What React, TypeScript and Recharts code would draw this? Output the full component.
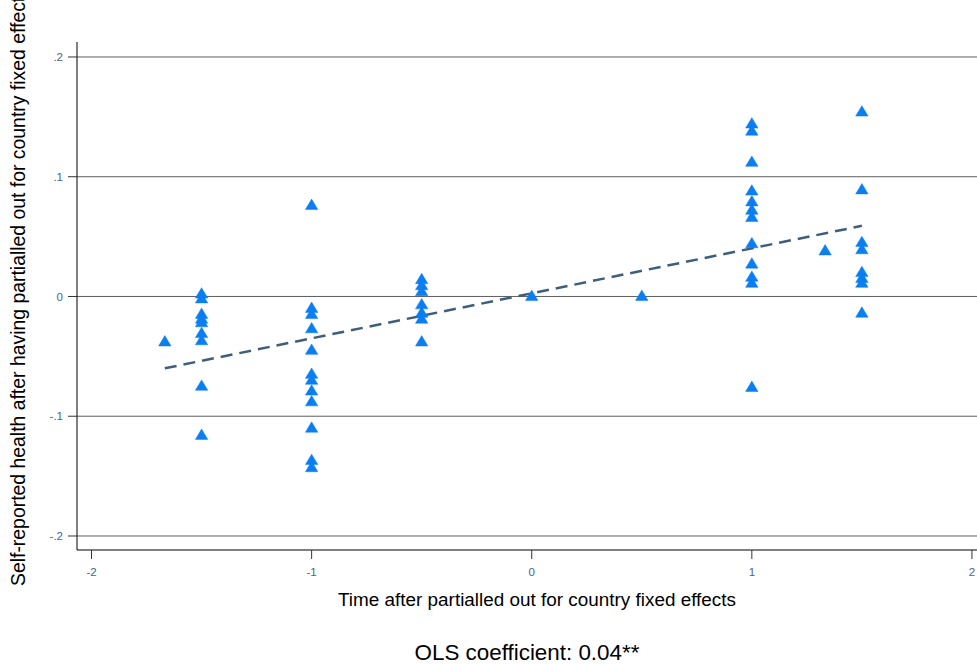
import React from "react";
import {
  ScatterChart,
  Scatter,
  XAxis,
  YAxis,
  ReferenceLine,
} from "recharts";

// ---- data ----
const xTicks = [-2, -1, 0, 1, 2];
const xTickLabels = ["-2", "-1", "0", "1", "2"];
const yTicks = [-0.2, -0.1, 0, 0.1, 0.2];
const yTickLabels = ["-.2", "-.1", "0", ".1", ".2"];

const clusterTimes = [-1.667, -1.5, -1, -0.5, 0, 0.5, 1, 1.333, 1.5];
const healthAtMinus1667 = [-0.037];
const healthAtMinus15 = [0.003, -0.001, -0.014, -0.018, -0.021, -0.03, -0.036, -0.074, -0.115];
const healthAtMinus1 = [0.077, -0.009, -0.014, -0.026, -0.044, -0.064, -0.069, -0.078, -0.087, -0.109, -0.136, -0.142];
const healthAtMinus05 = [0.015, 0.01, 0.005, -0.006, -0.013, -0.018, -0.037];
const healthAt0 = [0.001];
const healthAt05 = [0.001];
const healthAt1 = [0.145, 0.139, 0.113, 0.089, 0.08, 0.073, 0.067, 0.045, 0.028, 0.017, 0.012, -0.075];
const healthAt1333 = [0.039];
const healthAt15 = [0.155, 0.09, 0.046, 0.04, 0.021, 0.016, 0.012, -0.013];

const fitX = [-1.667, 1.5];
const fitY = [-0.06, 0.059];

const xTitle = "Time after partialled out for country fixed effects";
const yTitle = "Self-reported health after having partialled out for country fixed effects";
const note = "OLS coefficient: 0.04**";

const healthByCluster = [
  healthAtMinus1667,
  healthAtMinus15,
  healthAtMinus1,
  healthAtMinus05,
  healthAt0,
  healthAt05,
  healthAt1,
  healthAt1333,
  healthAt15,
];

const points = clusterTimes.flatMap((t, i) =>
  healthByCluster[i].map((h) => ({ time: t, health: h }))
);

// ---- styles ----
const FONT = "'Liberation Sans', Arial, Helvetica, sans-serif";
const TICK_COLOR = "#47658a";
const MARKER = "#0b7ef0";
const FIT_COLOR = "#3d5f7c";
const GRID = "#5f5f5f";

const Triangle = (props: any) => {
  const { cx, cy } = props;
  if (cx == null || cy == null) return null;
  const w = 6.2;
  const h = 5.2;
  return (
    <polygon
      points={`${cx},${cy - h} ${cx + w},${cy + h} ${cx - w},${cy + h}`}
      fill={MARKER}
      stroke={MARKER}
      strokeWidth={0.5}
      strokeLinejoin="round"
    />
  );
};

const XTitle = () => (
  <g>
    <text
      x={537}
      y={605.5}
      textAnchor="middle"
      fontFamily={FONT}
      fontSize={18.9}
      fill="#000"
    >
      {xTitle}
    </text>
    <text
      x={527}
      y={660}
      textAnchor="middle"
      fontFamily={FONT}
      fontSize={22.4}
      fill="#000"
    >
      {note}
    </text>
  </g>
);

const YTitle = () => (
  <text
    x={0}
    y={0}
    transform="translate(24.5,586) rotate(-90)"
    textAnchor="start"
    fontFamily={FONT}
    fontSize={19.4}
    fill="#000"
  >
    {yTitle}
  </text>
);

export default function App() {
  return (
    <div
      style={{
        position: "absolute",
        left: 0,
        top: 0,
        width: 977,
        height: 664,
        overflow: "hidden",
      }}
    >
      <ScatterChart
        width={977}
        height={664}
        margin={{ top: 42, right: 0, bottom: 84, left: 0 }}
        style={{ fontFamily: FONT }}
      >
        <XAxis
          type="number"
          dataKey="time"
          domain={[-2.066, 2.023]}
          ticks={xTicks}
          interval={0}
          allowDataOverflow
          height={30}
          tickSize={9}
          tickMargin={9}
          tickFormatter={(v: number) => xTickLabels[xTicks.indexOf(v)] ?? String(v)}
          tick={{ fill: TICK_COLOR, fontSize: 11.5, fontFamily: FONT }}
          tickLine={{ stroke: "#333" }}
          axisLine={{ stroke: "#000" }}
          label={<XTitle />}
        />
        <YAxis
          type="number"
          dataKey="health"
          domain={[-0.2117, 0.2125]}
          ticks={yTicks}
          interval={0}
          allowDataOverflow
          width={77}
          tickSize={9}
          tickMargin={5}
          tickFormatter={(v: number) => {
            const i = yTicks.findIndex((t) => Math.abs(t - v) < 1e-9);
            return i >= 0 ? yTickLabels[i] : String(v);
          }}
          tick={{ fill: TICK_COLOR, fontSize: 11.5, fontFamily: FONT }}
          tickLine={{ stroke: "#333" }}
          axisLine={{ stroke: "#000" }}
          label={<YTitle />}
        />
        {yTicks.map((t) => (
          <ReferenceLine key={t} y={t} stroke={GRID} strokeWidth={1} />
        ))}
        <ReferenceLine
          segment={[
            { x: fitX[0], y: fitY[0] },
            { x: fitX[1], y: fitY[1] },
          ]}
          stroke={FIT_COLOR}
          strokeWidth={2.5}
          strokeDasharray="12 7"
          ifOverflow="visible"
        />
        <Scatter
          data={points}
          shape={(p: any) => <Triangle {...p} />}
          isAnimationActive={false}
        />
      </ScatterChart>
    </div>
  );
}
